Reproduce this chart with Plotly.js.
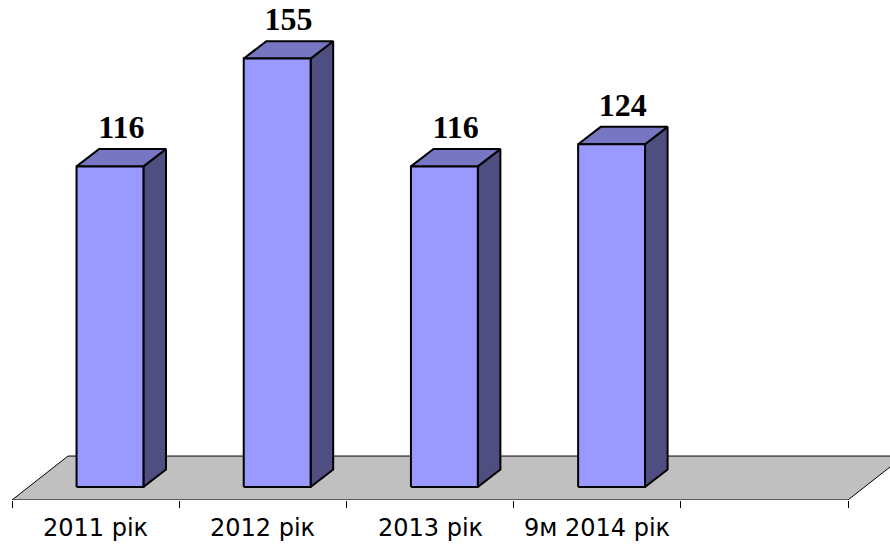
<!DOCTYPE html>
<html>
<head>
<meta charset="utf-8">
<script src="https://cdn.plot.ly/plotly-3.0.1.min.js"></script>
<style>html,body{margin:0;padding:0;background:#fff;}#chart{width:890px;height:545px;}</style>
</head>
<body>
<div id="chart"></div>
<script>
// ---- data ----
const categories = ["2011 рік", "2012 рік", "2013 рік", "9м 2014 рік"];
const values = [116, 155, 116, 124];
const slotCount = 5; // number of category slots on the floor (last one empty)

// ---- style constants ----
const barOffset = 0.586;   // front-face centre within the slot
const barWidth = 0.40;
const depthX = 0.135;      // 3-D depth shift (x units)
const depthY = 6.3;        // 3-D depth shift (y units)
const floorFront = -4.7;
const floorBack = 11.2;
const floorDX = 0.335;
const labelShift = 1.0;

const frontColor = '#9999FF';
const topColor = '#7676C2';
const sideColor = '#4E4E80';

const traces = [];
function poly(xs, ys, fill, lw) {
  traces.push({
    type: 'scatter', mode: 'lines', x: xs.concat([xs[0]]), y: ys.concat([ys[0]]),
    fill: 'toself', fillcolor: fill,
    line: {color: '#000', width: lw, shape: 'linear'},
    hoverinfo: 'skip', showlegend: false
  });
}

// floor
poly([0, slotCount, slotCount + floorDX, floorDX],
     [floorFront, floorFront, floorBack, floorBack], '#C0C0C0', 1);

values.forEach((v, i) => {
  const c = i + barOffset;
  const l = c - barWidth / 2, r = c + barWidth / 2;
  // side
  poly([r, r + depthX, r + depthX, r], [0, depthY, v + depthY, v], sideColor, 2);
  // top
  poly([l, l + depthX, r + depthX, r], [v, v + depthY, v + depthY, v], topColor, 2);
  // front
  poly([l, r, r, l], [0, 0, v, v], frontColor, 2);
});

// value labels
traces.push({
  type: 'scatter', mode: 'text',
  x: values.map((v, i) => i + barOffset + depthX / 2),
  y: values.map(v => v + depthY + labelShift),
  text: values.map(String),
  textposition: 'top center',
  textfont: {family: 'Liberation Serif, Times New Roman, serif', size: 32, color: '#000', weight: 'bold'},
  cliponaxis: false, hoverinfo: 'skip', showlegend: false
});

const annotations = categories.map((c, i) => ({
  x: i + 0.5, xref: 'x', y: 0, yref: 'paper', yanchor: 'top', yshift: -12,
  text: c, showarrow: false,
  font: {family: 'DejaVu Sans, Arial, sans-serif', size: 24, color: '#000'}
}));

const tickvals = [];
for (let k = 0; k <= slotCount; k++) tickvals.push(k);

const layout = {
  width: 890, height: 545,
  margin: {l: 0, r: 0, t: 0, b: 45},
  paper_bgcolor: '#fff', plot_bgcolor: '#fff',
  showlegend: false,
  xaxis: {
    range: [-12 / 167.2, 878 / 167.2], tickmode: 'array', tickvals: tickvals,
    showticklabels: false, ticks: 'outside', ticklen: 7, tickcolor: '#000', tickwidth: 1,
    showgrid: false, zeroline: false, showline: false, fixedrange: true
  },
  yaxis: {
    range: [-13 / 2.764, 487 / 2.764], visible: false, showgrid: false, zeroline: false, fixedrange: true
  },
  annotations: annotations
};

Plotly.newPlot('chart', traces, layout, {displayModeBar: false, staticPlot: true});
</script>
</body>
</html>
